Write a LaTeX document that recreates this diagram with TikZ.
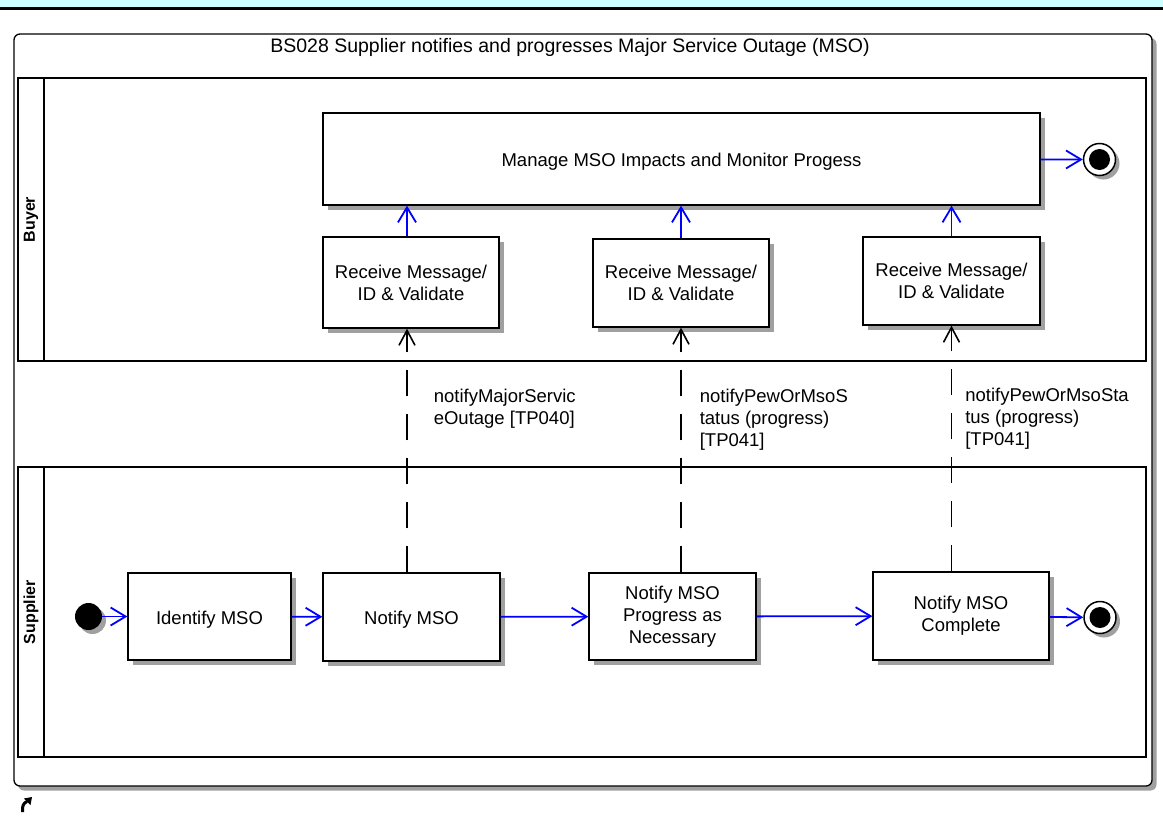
\documentclass[tikz,border=0pt]{standalone}
\usepackage{fontspec}
\setmainfont{Liberation Sans}
\usetikzlibrary{arrows.meta, shadows}

\definecolor{bandcyan}{RGB}{204,255,255}
\definecolor{flowblue}{RGB}{0,0,255}
\definecolor{shadowgray}{RGB}{160,160,160}

\begin{document}
\begin{tikzpicture}[x=1pt, y=-1pt, font=\fontsize{18.5}{22}\selectfont,
    action/.style={draw, line width=1.3pt, fill=white, align=center, inner sep=0pt,
        execute at begin node={\rule{0pt}{19pt}},
        drop shadow={shadow xshift=5pt, shadow yshift=-5pt, fill=shadowgray, opacity=1}},
    initial/.style={circle, fill=black, minimum size=27pt, inner sep=0pt,
        drop shadow={shadow xshift=4pt, shadow yshift=-4pt, fill=shadowgray, opacity=1}},
    final/.style={circle, draw, line width=1.5pt, fill=white, minimum size=32pt, inner sep=0pt,
        path picture={\fill[black] (path picture bounding box.center) circle (10.5pt);},
        drop shadow={shadow xshift=4pt, shadow yshift=-4pt, fill=shadowgray, opacity=1}},
    flow/.style={draw=flowblue, line width=1.8pt, -{Straight Barb[length=15pt, width=18pt, line width=1.8pt]}},
    msg/.style={draw=black, line width=1.6pt, dash pattern=on 26pt off 18pt,
        -{Straight Barb[length=15pt, width=16pt, line width=1.6pt]}},
    msglabel/.style={align=left, inner sep=0pt, anchor=west, xshift=26pt},
    lanename/.style={rotate=90, font=\bfseries\fontsize{16}{16}\selectfont}]

    \useasboundingbox (0,0) rectangle (1163,817);

    % -------------------------------------------------------------
    % HEADER BAND AND OUTER FRAME
    % -------------------------------------------------------------

    \fill[bandcyan] (0,0) rectangle (1163,8);
    \draw[line width=2.5pt] (0,8.7) -- (1163,8.7);

    \fill[shadowgray, rounded corners=6pt] (18,38) rectangle (1156.5,790.5);
    \draw[line width=1.3pt, fill=white, rounded corners=6pt] (14,34) rectangle (1152,786);
    \node[font=\fontsize{19.5}{22}\selectfont] (title) at (570,47) {BS028 Supplier notifies and progresses Major Service Outage (MSO)};

    % bent arrow mark below the frame
    \draw[line width=3pt] (22.5,812) .. controls (22,806) and (23.5,803) .. (27,801.5);
    \fill (24,798.5) -- (32,797) -- (30.5,805) -- cycle;

    % -------------------------------------------------------------
    % SWIMLANES
    % -------------------------------------------------------------

    \draw[line width=1.3pt] (18,78) rectangle (44,361);
    \draw[line width=1.3pt] (44,78) rectangle (1146,361);
    \node[lanename] (buyer) at (31,219.5) {Buyer};

    \draw[line width=1.3pt] (18,467) rectangle (44,757);
    \draw[line width=1.3pt] (44,467) rectangle (1146,757);
    \node[lanename] (supplier) at (31,612) {Supplier};

    % -------------------------------------------------------------
    % BUYER ACTIONS
    % -------------------------------------------------------------

    \node[action, minimum width=717pt, minimum height=92pt] (manage) at (681.5,159) {Manage MSO Impacts and Monitor Progess};
    \node[action, minimum width=176pt, minimum height=91pt] (recv1) at (411,282.5) {Receive Message/\\ID \& Validate};
    \node[action, minimum width=176pt, minimum height=88pt] (recv2) at (681,283) {Receive Message/\\ID \& Validate};
    \node[action, minimum width=177pt, minimum height=88pt] (recv3) at (951.5,281) {Receive Message/\\ID \& Validate};
    \node[final] (end1) at (1099.5,159.5) {};

    % -------------------------------------------------------------
    % SUPPLIER ACTIONS
    % -------------------------------------------------------------

    \node[initial] (start) at (88.5,616.5) {};
    \node[action, minimum width=163pt, minimum height=87pt] (identify) at (209.5,616.5) {Identify MSO};
    \node[action, minimum width=177pt, minimum height=88pt] (notify) at (411.5,617) {Notify MSO};
    \node[action, minimum width=167pt, minimum height=87pt] (progress) at (672.5,616.5) {Notify MSO\\Progress as\\Necessary};
    \node[action, minimum width=176pt, minimum height=88pt] (complete) at (961,616) {Notify MSO\\Complete};
    \node[final] (end2) at (1100,617.5) {};

    % -------------------------------------------------------------
    % CONTROL FLOWS
    % -------------------------------------------------------------

    \draw[flow] (start) -- (identify);
    \draw[flow] (identify) -- (notify);
    \draw[flow] (notify) -- (progress);
    \draw[flow] (progress) -- (complete);
    \draw[flow] (complete) -- (end2);
    \draw[flow] (manage) -- (end1);

    \draw[flow] ([xshift=-4pt]recv1.north) -- ([xshift=-4pt]recv1.north |- manage.south);
    \draw[flow] (recv2.north) -- (recv2.north |- manage.south);
    \draw[flow] (recv3.north) -- (recv3.north |- manage.south);

    % -------------------------------------------------------------
    % MESSAGE FLOWS
    % -------------------------------------------------------------

    \draw[msg] ([xshift=-4pt]recv1.south |- notify.north) -- ([xshift=-4pt]recv1.south)
        node[msglabel, pos=0.67] {notifyMajorServic\\eOutage [TP040]};
    \draw[msg] (recv2.south |- progress.north) -- (recv2.south)
        node[msglabel, pos=0.625, xshift=-8pt] {notifyPewOrMsoS\\tatus (progress)\\{}[TP041]};
    \draw[msg] (recv3.south |- complete.north) -- (recv3.south)
        node[msglabel, pos=0.62, xshift=-13pt] {notifyPewOrMsoSta\\tus (progress)\\{}[TP041]};

\end{tikzpicture}
\end{document}
